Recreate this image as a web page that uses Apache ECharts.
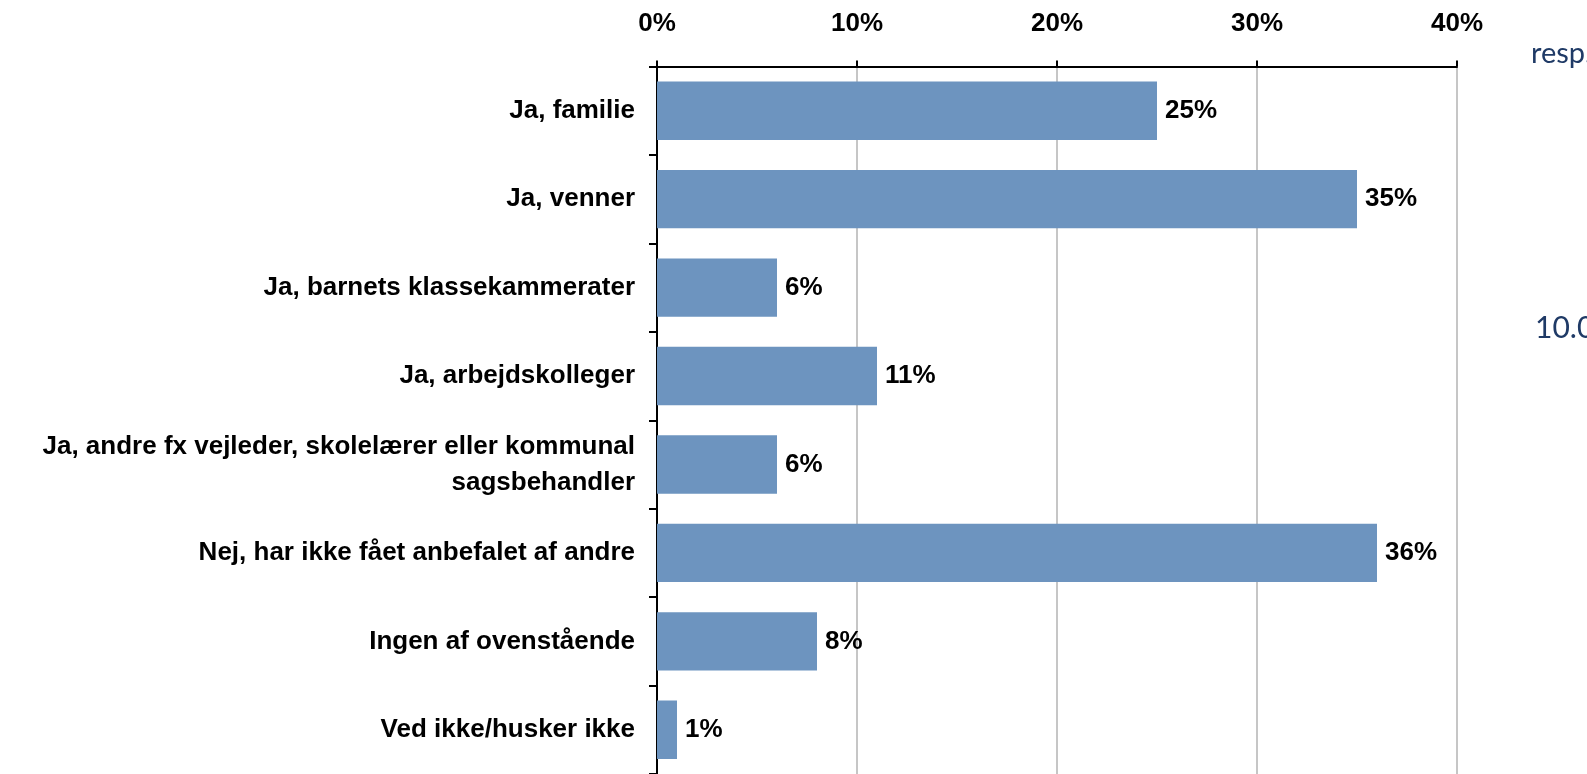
<!DOCTYPE html>
<html lang="da">
<head>
    <meta charset="UTF-8">
    <title>anbefaling</title>
    <script src="https://cdn.jsdelivr.net/npm/echarts@6/dist/echarts.min.js"></script>
    <style>
        html,body{margin:0;padding:0;background:#fff}
        #chart{width:1587px;height:774px}
    </style>
</head>
<body>
    <div id="chart"></div>
    <script>
        // svarkategorier (oppefra og ned)
        var categories = [
            'Ja, familie',
            'Ja, venner',
            'Ja, barnets klassekammerater',
            'Ja, arbejdskolleger',
            'Ja, andre fx vejleder, skolelærer eller kommunal\nsagsbehandler',
            'Nej, har ikke fået anbefalet af andre',
            'Ingen af ovenstående',
            'Ved ikke/husker ikke'
        ];
        // andel i procent
        var values = [25, 35, 6, 11, 6, 36, 8, 1];
        var sideTexts = ['resp.', '10.04'];

        var mychart = echarts.init(document.getElementById('chart'));
        var labelFont = {
            fontFamily: 'Liberation Sans, Arial, sans-serif',
            fontWeight: 'bold',
            fontSize: 26,
            color: '#000'
        };
        var option = {
            animation: false,
            title: [
                {
                    text: sideTexts[0], left: 1526, top: 34,
                    textStyle: {fontFamily: 'Lato, sans-serif', fontWeight: 'normal', fontSize: 29, color: '#1f3a66'}
                },
                {
                    text: sideTexts[1], left: 1530, top: 308,
                    textStyle: {fontFamily: 'Lato, sans-serif', fontWeight: 'normal', fontSize: 30, color: '#1f3a66'}
                }
            ],
            grid: {left: 657, right: 130, top: 66.5, bottom: -7},
            xAxis: {
                type: 'value',
                position: 'top',
                min: 0,
                max: 40,
                interval: 10,
                axisLine: {show: true, lineStyle: {color: '#000', width: 2}},
                axisTick: {show: true, length: 6, lineStyle: {color: '#000', width: 2}},
                axisLabel: Object.assign({formatter: '{value}%', margin: 30}, labelFont),
                splitLine: {show: true, lineStyle: {color: '#c6c6c6', width: 2}}
            },
            yAxis: {
                type: 'category',
                inverse: true,
                data: categories,
                axisLine: {show: true, lineStyle: {color: '#000', width: 2}},
                axisTick: {show: true, length: 8, lineStyle: {color: '#000', width: 2}},
                axisLabel: Object.assign({margin: 22, lineHeight: 36, align: 'right'}, labelFont),
                splitLine: {show: false}
            },
            series: [{
                type: 'bar',
                data: values,
                barCategoryGap: '34%',
                itemStyle: {color: '#6d94bf'},
                label: Object.assign({
                    show: true,
                    position: 'right',
                    distance: 8,
                    formatter: '{c}%'
                }, labelFont)
            }]
        };
        mychart.setOption(option);
    </script>
</body>
</html>
